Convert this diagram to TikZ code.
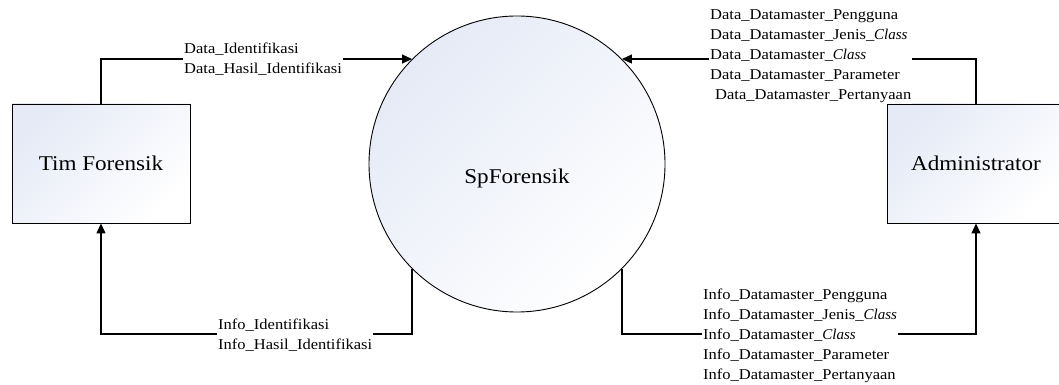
\documentclass[tikz,border=0pt]{standalone}
\usepackage{fontspec}
\setmainfont{Liberation Serif}[FakeStretch=1.1, ItalicFeatures={FakeStretch=1.0}]
\usetikzlibrary{arrows.meta}
\definecolor{paleblue}{RGB}{229,234,246}
\begin{document}
\begin{tikzpicture}[x=1pt,y=1pt,
  bigtext/.style={font=\fontsize{21}{24}\selectfont},
  entity/.style={draw, line width=0.9pt, minimum width=178pt, minimum height=119pt,
    top color=paleblue, bottom color=white, shading angle=45,
    bigtext, inner sep=0pt},
  process/.style={circle, draw, line width=0.9pt, minimum size=296pt, inner sep=0pt,
    top color=paleblue, bottom color=white, shading angle=45},
  flow/.style={line width=1.2pt, -{Triangle[length=10pt,width=9pt]}},
  lbl/.style={fill=white, inner xsep=1pt, inner ysep=1pt, align=left, anchor=west,
    font=\fontsize{15}{20}\selectfont}
]
\useasboundingbox (0,0) rectangle (1059,385);

% external entities and the process
\node[entity] (tim) at (101,221.5) {Tim Forensik};
\node[entity] (adm) at (976,221.5) {Administrator};
\node[process] (sp) at (517,221) {};
\node[bigtext] (sptext) at ([yshift=-14pt]sp.center) {SpForensik};

% rail level of the lower flows
\coordinate (botrail) at (0,51);

% data flows
\draw[flow] (tim.north) |- (sp.135);
\draw[flow] (adm.north) |- (sp.45);
\draw[flow] (sp.225) |- (tim.south |- botrail) -- (tim.south);
\draw[flow] (sp.-45) |- (adm.south |- botrail) -- (adm.south);

% flow labels
\node[lbl] (dataid) at (183,326) {Data\_Identifikasi\\Data\_Hasil\_Identifikasi};
\node[lbl] (infoid) at (217,50) {Info\_Identifikasi\\Info\_Hasil\_Identifikasi};
\node[lbl] (datadm) at (709,329) {Data\_Datamaster\_Pengguna\\
  Data\_Datamaster\_Jenis\_\textit{Class}\\
  Data\_Datamaster\_\textit{Class}\\
  Data\_Datamaster\_Parameter\\
  \hspace*{5pt}Data\_Datamaster\_Pertanyaan};
\node[lbl] (infodm) at (702,49) {Info\_Datamaster\_Pengguna\\
  Info\_Datamaster\_Jenis\_\textit{Class}\\
  Info\_Datamaster\_\textit{Class}\\
  Info\_Datamaster\_Parameter\\
  Info\_Datamaster\_Pertanyaan};
\end{tikzpicture}
\end{document}
